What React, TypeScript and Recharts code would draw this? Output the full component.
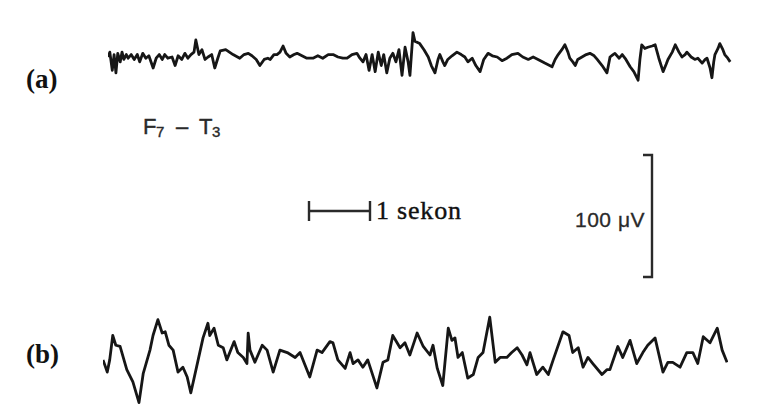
import { LineChart, Line, XAxis, YAxis } from 'recharts';

// paper scale: 1 second = 61 px, 1 µV = 1.22 px (100 µV bracket = 122 px)
const SEC_PX = 61;
const UV_PX = 1.22;
const TRACE_W = 625;

// (a) F7 - T3, time in s, amplitude in µV
const timeA = [
  0.00, 0.03, 0.07, 0.10, 0.13, 0.16, 0.20, 0.23, 0.26, 0.30,
  0.33, 0.38, 0.43, 0.48, 0.52, 0.57, 0.62, 0.67, 0.74, 0.79,
  0.84, 0.89, 0.93, 0.98, 1.05, 1.10, 1.15, 1.21, 1.26, 1.31,
  1.36, 1.41, 1.44, 1.49, 1.54, 1.59, 1.64, 1.70, 1.75, 1.80,
  1.84, 1.93, 2.05, 2.16, 2.23, 2.30, 2.36, 2.43, 2.49, 2.56,
  2.62, 2.66, 2.72, 2.77, 2.82, 2.87, 2.92, 2.98, 3.05, 3.10,
  3.18, 3.26, 3.36, 3.44, 3.52, 3.61, 3.69, 3.77, 3.85, 3.92,
  4.00, 4.08, 4.13, 4.18, 4.23, 4.28, 4.33, 4.38, 4.43, 4.48,
  4.52, 4.57, 4.62, 4.67, 4.72, 4.77, 4.82, 4.87, 4.92, 4.95,
  5.00, 5.03, 5.11, 5.18, 5.25, 5.30, 5.36, 5.41, 5.44, 5.49,
  5.52, 5.57, 5.64, 5.72, 5.79, 5.85, 5.90, 5.97, 6.03, 6.10,
  6.16, 6.23, 6.30, 6.38, 6.46, 6.54, 6.62, 6.72, 6.80, 6.89,
  6.97, 7.05, 7.16, 7.28, 7.33, 7.38, 7.44, 7.49, 7.54, 7.57,
  7.62, 7.66, 7.70, 7.77, 7.84, 7.90, 7.97, 8.02, 8.10, 8.18,
  8.23, 8.28, 8.31, 8.38, 8.43, 8.49, 8.56, 8.62, 8.69, 8.72,
  8.75, 8.80, 8.85, 8.92, 8.97, 9.03, 9.10, 9.15, 9.18, 9.25,
  9.30, 9.36, 9.41, 9.46, 9.49, 9.56, 9.62, 9.67, 9.74, 9.79,
  9.82, 9.87, 9.90, 9.93, 9.95, 10.00, 10.03, 10.08, 10.11, 10.16,
  10.20,
];
const uvA = [
  0, 4, -11, 2, -13, 3, -4, 4, -2, 2,
  -1, 2, -2, 2, -4, 3, -1, 1, -9, -1,
  2, -2, 2, -1, 0, -7, 1, -2, 3, -1,
  2, 4, 14, 2, 6, -2, 0, 2, -9, -1,
  5, 6, 2, -1, 2, 3, 1, -2, -7, -2,
  -1, -2, 2, 2, 4, 9, 3, 0, 2, 3,
  1, -1, -1, 1, -1, 2, 2, 0, -1, -1,
  2, 3, -1, -4, 2, -11, 2, -12, 4, -7,
  2, -13, -1, 3, -4, 6, -15, 8, -4, -15,
  20, 13, 11, 6, 0, -7, -13, -2, 2, -4,
  -7, -2, 1, 4, 2, 0, -4, -1, -7, -12,
  -2, 3, 1, 0, -3, -1, 2, 3, 0, -2,
  0, -2, -5, -8, -2, 2, 6, 10, 4, -1,
  -4, -7, -2, 0, 2, 3, 1, -2, -7, -13,
  0, 2, 3, -1, 2, -2, -8, -12, -19, -2,
  10, 7, 8, 9, 10, -1, -12, -6, -2, 4,
  10, 4, 0, 2, 4, 0, -2, -1, -5, -2,
  -1, -9, -17, -4, 2, 7, 11, 6, 2, -1,
  -4,
];

// (b)
const timeB = [
  0.00, 0.07, 0.11, 0.16, 0.21, 0.28, 0.39, 0.49, 0.59, 0.66,
  0.77, 0.82, 0.90, 0.97, 1.02, 1.08, 1.15, 1.23, 1.31, 1.38,
  1.44, 1.56, 1.64, 1.72, 1.75, 1.82, 1.89, 1.97, 2.03, 2.15,
  2.21, 2.30, 2.36, 2.38, 2.41, 2.49, 2.61, 2.69, 2.79, 2.90,
  3.02, 3.15, 3.23, 3.39, 3.51, 3.59, 3.72, 3.77, 3.85, 3.97,
  4.05, 4.10, 4.18, 4.26, 4.34, 4.49, 4.59, 4.67, 4.75, 4.87,
  4.95, 5.03, 5.11, 5.15, 5.25, 5.36, 5.41, 5.48, 5.57, 5.66,
  5.72, 5.77, 5.82, 5.89, 5.98, 6.07, 6.15, 6.23, 6.34, 6.43,
  6.51, 6.62, 6.70, 6.79, 6.87, 6.95, 7.00, 7.11, 7.21, 7.30,
  7.38, 7.54, 7.64, 7.70, 7.79, 7.87, 7.95, 8.03, 8.18, 8.26,
  8.31, 8.44, 8.52, 8.64, 8.75, 8.85, 8.93, 9.05, 9.18, 9.26,
  9.34, 9.46, 9.57, 9.67, 9.75, 9.84, 9.95, 10.07, 10.15, 10.23,
];
const uvB = [
  -4, -14, -4, 16, 8, 7, -12, -22, -39, -15,
  4, 16, 29, 18, 19, 8, 4, -14, -10, -18,
  -31, -4, 14, 26, 16, 22, 8, 6, -4, 11,
  2, -2, -7, 18, 4, -6, 8, 4, -14, 4,
  2, -2, 2, -18, 4, 2, 11, 10, -4, -11,
  2, -7, -4, -10, -4, -27, -6, -4, 16, 6,
  10, 0, 12, 18, 7, 0, 8, -11, -25, 22,
  12, 14, -2, 2, -19, -16, -2, 2, 31, -6,
  -2, -2, 2, 6, 0, -8, 2, -16, -10, -16,
  -4, 19, 16, 2, 6, -10, -2, -7, -16, -12,
  -12, 7, -2, 12, -7, 2, 8, 14, -14, -6,
  -6, -10, 2, 2, -7, 15, 10, 22, 4, -6,
];

const toRows = (ts: number[], vs: number[]) => ts.map((t, i) => ({ t, v: vs[i] }));

function Trace({ times, values, left, top, height }: { times: number[]; values: number[]; left: number; top: number; height: number }) {
  const half = height / 2 / UV_PX;
  return (
    <div style={{ position: 'absolute', left, top }}>
      <LineChart width={TRACE_W} height={height} data={toRows(times, values)} margin={{ top: 0, right: 0, bottom: 0, left: 0 }}>
        <XAxis type="number" dataKey="t" domain={[0, TRACE_W / SEC_PX]} hide />
        <YAxis type="number" domain={[-half, half]} hide />
        <Line
          type="linear"
          dataKey="v"
          stroke="#161616"
          strokeWidth={2.8}
          strokeLinejoin="round"
          dot={false}
          isAnimationActive={false}
        />
      </LineChart>
    </div>
  );
}

const sans = 'Liberation Sans, Arial, sans-serif';
const serif = 'Liberation Serif, Times New Roman, serif';

export default function App() {
  const barX = 309;
  const barY = 211;
  const brX = 652;
  const brTop = 155;
  const brBottom = brTop + 100 * UV_PX;
  return (
    <div style={{ position: 'absolute', left: 0, top: 0, width: 771, height: 412, background: '#fff', overflow: 'hidden' }}>
      <Trace times={timeA} values={uvA} left={108} top={27} height={60} />
      <Trace times={timeB} values={uvB} left={103} top={305} height={100} />
      <svg width={771} height={412} style={{ position: 'absolute', left: 0, top: 0 }}>
        <text x={26} y={88} fontFamily={serif} fontWeight="bold" fontSize={27} fill="#111">(a)</text>
        <text x={26} y={363} fontFamily={serif} fontWeight="bold" fontSize={27} fill="#111">(b)</text>

        <g fontFamily={sans} fill="#2a2a2a" stroke="#2a2a2a" strokeWidth={0.4}>
          <text x={143} y={134} fontSize={22}>F</text>
          <text x={156} y={137} fontSize={15}>7</text>
          <text x={176} y={134} fontSize={22}>–</text>
          <text x={199} y={134} fontSize={22}>T</text>
          <text x={212} y={137} fontSize={15}>3</text>
        </g>

        {/* 1 second bar */}
        <g stroke="#2a2a2a" strokeWidth={2.4}>
          <line x1={barX} y1={barY} x2={barX + SEC_PX} y2={barY} />
          <line x1={barX} y1={barY - 10} x2={barX} y2={barY + 10} />
          <line x1={barX + SEC_PX} y1={barY - 10} x2={barX + SEC_PX} y2={barY + 10} />
        </g>
        <text x={376} y={219} fontFamily={serif} fontSize={26} letterSpacing={0.8} fill="#111" stroke="#111" strokeWidth={0.4}>1 sekon</text>

        {/* 100 µV bracket */}
        <g stroke="#2a2a2a" strokeWidth={2.4} fill="none">
          <polyline points={`${brX - 9},${brTop} ${brX},${brTop} ${brX},${brBottom} ${brX - 9},${brBottom}`} />
        </g>
        <text x={645} y={227} textAnchor="end" fontFamily={sans} fontSize={21} letterSpacing={0.5} fill="#2a2a2a" stroke="#2a2a2a" strokeWidth={0.3}>100 μV</text>
      </svg>
    </div>
  );
}
